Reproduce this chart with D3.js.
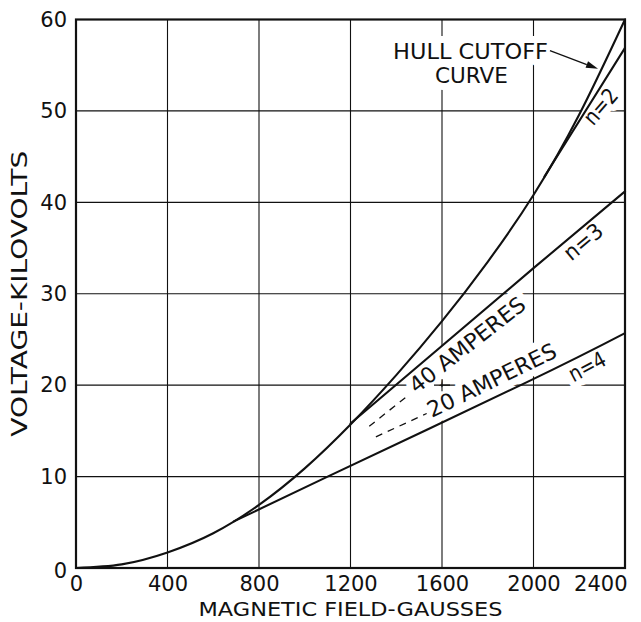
<!DOCTYPE html>
<html><head><meta charset="utf-8">
<script src="https://cdn.jsdelivr.net/npm/d3@7"></script>
<style>
html,body{margin:0;padding:0;background:#fff;}
svg{display:block;}
text{font-family:"DejaVu Sans",sans-serif;fill:#111;}
</style></head><body>
<svg id="chart" width="641" height="622"></svg>
<script>
// ---- data ----
const xTicks = [0, 400, 800, 1200, 1600, 2000, 2400];
const yTicks = [0, 10, 20, 30, 40, 50, 60];
const hullB = [0, 200, 400, 600, 800, 1000, 1200, 1400, 1600, 1800, 2000, 2200, 2400];
const hullV = [0, 0.4, 1.7, 3.8, 6.9, 10.9, 15.7, 21.1, 27.0, 33.5, 40.8, 49.6, 60];
const n2B = [2050, 2100, 2400];
const n2V = [42.9, 44.9, 56.9];
const n3B = [1200, 2000, 2400];
const n3V = [15.8, 32.8, 41.2];
const n4B = [690, 1100, 1960, 2400];
const n4V = [5.1, 10.0, 20.2, 25.7];
const dash40B = [1282, 1453];
const dash40V = [15.5, 18.9];
const dash20B = [1311, 1533];
const dash20V = [14.35, 16.9];

// ---- layout ----
const svg = d3.select("#chart");
const x = d3.scaleLinear().domain([0, 2400]).range([76, 625]);
const y = d3.scaleLinear().domain([0, 60]).range([568, 19.5]);
const ink = "#111";

const zip = (a, b) => a.map((d, i) => [d, b[i]]);
const line = d3.line().x(d => x(d[0])).y(d => y(d[1]));

// grid
const grid = svg.append("g").attr("stroke", ink).attr("stroke-width", 1.1);
grid.selectAll("line.v").data(xTicks.slice(1, -1)).join("line")
  .attr("x1", d => x(d)).attr("x2", d => x(d)).attr("y1", y(0)).attr("y2", y(60));
grid.selectAll("line.h").data(yTicks.slice(1, -1)).join("line")
  .attr("y1", d => y(d)).attr("y2", d => y(d)).attr("x1", x(0)).attr("x2", x(2400));

// annotations (placed in data coordinates)
const notes = [
  {t: "HULL CUTOFF", b: 1386, v: 55.7, rot: 0, len: 155, fs: 22},
  {t: "CURVE", b: 1569, v: 53.1, rot: 0, len: 73, fs: 22},
  {t: "40 AMPERES", b: 1488, v: 19.0, rot: -38, len: 141, fs: 22},
  {t: "20 AMPERES", b: 1555, v: 16.4, rot: -26, len: 141, fs: 22},
  {t: "n=2", b: 2261, v: 48.3, rot: -49, len: 40, fs: 22},
  {t: "n=3", b: 2165, v: 33.5, rot: -40, len: 44, fs: 22},
  {t: "n=4", b: 2175, v: 20.3, rot: -28, len: 39, fs: 22}
];
function drawNotes(g, halo) {
  g.selectAll("text").data(notes).join("text")
    .attr("transform", d => `translate(${x(d.b)},${y(d.v)}) rotate(${d.rot})`)
    .attr("font-size", d => d.fs)
    .attr("textLength", d => d.len)
    .attr("lengthAdjust", "spacingAndGlyphs")
    .attr("stroke", halo ? "#fff" : "none")
    .attr("stroke-width", halo ? 14 : 0)
    .attr("stroke-linejoin", "round")
    .style("fill", halo ? "#fff" : ink)
    .text(d => d.t);
}
drawNotes(svg.append("g"), true);

// frame
svg.append("rect").attr("x", x(0)).attr("y", y(60))
  .attr("width", x(2400) - x(0)).attr("height", y(0) - y(60))
  .attr("fill", "none").attr("stroke", ink).attr("stroke-width", 2.2);

// drafter's cross mark where grid is broken by the text
svg.append("path").attr("stroke", ink).attr("stroke-width", 1.1)
  .attr("d", `M${x(1600) - 8},${y(20)}H${x(1600) + 8}M${x(1600)},${y(20) - 6}V${y(20) + 6}`);

// curves
const curves = svg.append("g").attr("fill", "none").attr("stroke", ink)
  .attr("stroke-width", 2.1).attr("stroke-linecap", "round");
const smooth = d3.line().x(d => x(d[0])).y(d => y(d[1])).curve(d3.curveNatural);
curves.append("path").attr("d", smooth(zip(hullB, hullV)));
curves.append("path").attr("d", smooth(zip(n2B, n2V)));
curves.append("path").attr("d", smooth(zip(n3B, n3V)));
curves.append("path").attr("d", smooth(zip(n4B, n4V)));

// dashed extensions
const dashes = svg.append("g").attr("fill", "none").attr("stroke", ink)
  .attr("stroke-width", 1.3).attr("stroke-dasharray", "7,6");
dashes.append("path").attr("d", line(zip(dash40B, dash40V)));
dashes.append("path").attr("d", line(zip(dash20B, dash20V)));

// arrow to the Hull curve
const a0 = [2072, 56.6], a1 = [2282, 54.6];
const ax0 = x(a0[0]), ay0 = y(a0[1]), ax1 = x(a1[0]), ay1 = y(a1[1]);
const ang = Math.atan2(ay1 - ay0, ax1 - ax0);
const hl = 12, hw = 3.5;
const bx = ax1 - hl * Math.cos(ang), by = ay1 - hl * Math.sin(ang);
svg.append("line").attr("x1", ax0).attr("y1", ay0).attr("x2", bx).attr("y2", by)
  .attr("stroke", ink).attr("stroke-width", 1.3);
svg.append("path").attr("fill", ink)
  .attr("d", `M${ax1},${ay1}L${bx - hw * Math.sin(ang)},${by + hw * Math.cos(ang)}L${bx + hw * Math.sin(ang)},${by - hw * Math.cos(ang)}Z`);

drawNotes(svg.append("g"), false);

// axes
const xAxis = svg.append("g").attr("transform", `translate(0,${y(0)})`)
  .call(d3.axisBottom(x).tickValues(xTicks).tickSize(0).tickPadding(8.5).tickFormat(d3.format("d")));
xAxis.select(".domain").remove();
xAxis.selectAll("text").attr("font-size", 21).attr("font-family", "DejaVu Sans, sans-serif").style("fill", ink);
xAxis.selectAll(".tick").filter(d => d === 2400).select("text")
  .attr("text-anchor", "end").attr("x", 2);

const yAxis = svg.append("g").attr("transform", `translate(${x(0)},0)`)
  .call(d3.axisLeft(y).tickValues(yTicks).tickSize(0).tickPadding(9).tickFormat(d3.format("d")));
yAxis.select(".domain").remove();
yAxis.selectAll("text").attr("font-size", 21).attr("font-family", "DejaVu Sans, sans-serif").style("fill", ink);
yAxis.selectAll(".tick").filter(d => d === 0).select("text").attr("dy", "0.45em");

// axis titles
svg.append("text").attr("x", (x(0) + x(2400)) / 2).attr("y", 616)
  .attr("text-anchor", "middle").attr("font-size", 20)
  .attr("textLength", 304).attr("lengthAdjust", "spacingAndGlyphs")
  .text("MAGNETIC FIELD-GAUSSES");
svg.append("text").attr("transform", `translate(27,${(y(0) + y(60)) / 2}) rotate(-90)`)
  .attr("text-anchor", "middle").attr("font-size", 21)
  .attr("textLength", 286).attr("lengthAdjust", "spacingAndGlyphs")
  .text("VOLTAGE-KILOVOLTS");
</script>
</body></html>
